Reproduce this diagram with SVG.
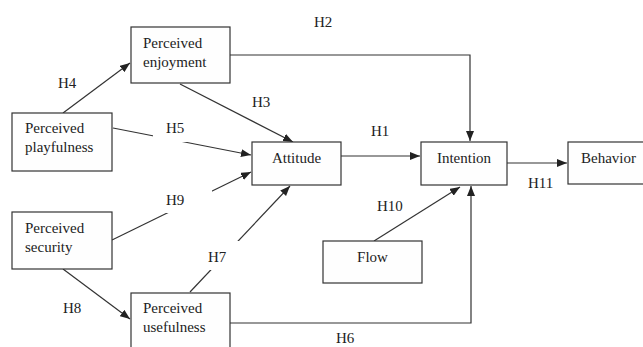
<svg xmlns="http://www.w3.org/2000/svg" width="643" height="347" viewBox="0 0 643 347">
  <defs>
    <marker id="arrow" viewBox="0 0 10 8" refX="10" refY="4" markerWidth="10" markerHeight="8" markerUnits="userSpaceOnUse" orient="auto">
      <path d="M0,0 L10,4 L0,8 Z" fill="#222"/>
    </marker>
    <style>
      .box { fill: #fefefe; stroke: #333; stroke-width: 1.2; }
      .txt { font-family: "Liberation Serif", "Times New Roman", serif; font-size: 15px; fill: #222; }
      .lbl { font-family: "Liberation Serif", "Times New Roman", serif; font-size: 15px; fill: #222; }
      .edge { fill: none; stroke: #333; stroke-width: 1.2; }
      .arr { marker-end: url(#arrow); }
      .lblbg { fill: #ffffff; }
    </style>
  </defs>
  <rect width="643" height="347" fill="#ffffff"/>

  <!-- connectors -->
  <g id="connectors">
    <line class="edge arr" x1="63" y1="113" x2="130" y2="63"/>
    <line class="edge arr" x1="180" y1="84" x2="293" y2="142"/>
    <line class="edge arr" x1="113" y1="128" x2="251" y2="155"/>
    <line class="edge arr" x1="112" y1="240" x2="251" y2="172"/>
    <line class="edge arr" x1="190" y1="292" x2="290" y2="186"/>
    <line class="edge arr" x1="63" y1="269" x2="130" y2="319"/>
    <polyline class="edge arr" points="230,323 471,323 471,186"/>
    <polyline class="edge arr" points="230,55 470,55 470,141"/>
    <line class="edge arr" x1="341" y1="156" x2="420" y2="156"/>
    <line class="edge arr" x1="374" y1="241" x2="460" y2="187"/>
    <line class="edge arr" x1="507" y1="163" x2="567" y2="163"/>
  </g>

  <!-- hypothesis labels -->
  <g id="labels">
    <rect class="lblbg" x="153" y="113" width="57" height="29"/>
    <rect class="lblbg" x="152" y="188" width="60" height="25"/>
    <rect class="lblbg" x="197" y="241" width="55" height="29"/>
    <text class="lbl" x="58" y="88">H4</text>
    <text class="lbl" x="252" y="107">H3</text>
    <text class="lbl" x="166" y="133">H5</text>
    <text class="lbl" x="314" y="27">H2</text>
    <text class="lbl" x="371" y="136">H1</text>
    <text class="lbl" x="166" y="205">H9</text>
    <text class="lbl" x="208" y="262">H7</text>
    <text class="lbl" x="63" y="313">H8</text>
    <text class="lbl" x="377" y="211">H10</text>
    <text class="lbl" x="528" y="188">H11</text>
    <text class="lbl" x="336" y="343">H6</text>
  </g>

  <!-- nodes -->
  <g id="perceived-enjoyment">
    <rect class="box" x="131" y="27" width="99" height="56"/>
    <text class="txt" x="143" y="48">Perceived</text>
    <text class="txt" x="143" y="67">enjoyment</text>
  </g>
  <g id="perceived-playfulness">
    <rect class="box" x="12" y="113" width="100" height="58"/>
    <text class="txt" x="25" y="133">Perceived</text>
    <text class="txt" x="25" y="152">playfulness</text>
  </g>
  <g id="attitude">
    <rect class="box" x="252" y="142" width="89" height="43"/>
    <text class="txt" x="296.5" y="163" text-anchor="middle">Attitude</text>
  </g>
  <g id="intention">
    <rect class="box" x="421" y="142" width="86" height="43"/>
    <text class="txt" x="464" y="163" text-anchor="middle">Intention</text>
  </g>
  <g id="behavior">
    <rect class="box" x="568" y="142" width="82" height="42"/>
    <text class="txt" x="581" y="163">Behavior</text>
  </g>
  <g id="perceived-security">
    <rect class="box" x="12" y="212" width="100" height="57"/>
    <text class="txt" x="25" y="233">Perceived</text>
    <text class="txt" x="25" y="252">security</text>
  </g>
  <g id="perceived-usefulness">
    <rect class="box" x="131" y="293" width="99" height="60"/>
    <text class="txt" x="143" y="313">Perceived</text>
    <text class="txt" x="143" y="332">usefulness</text>
  </g>
  <g id="flow">
    <rect class="box" x="323" y="241" width="99" height="42"/>
    <text class="txt" x="372.5" y="262" text-anchor="middle">Flow</text>
  </g>
</svg>
